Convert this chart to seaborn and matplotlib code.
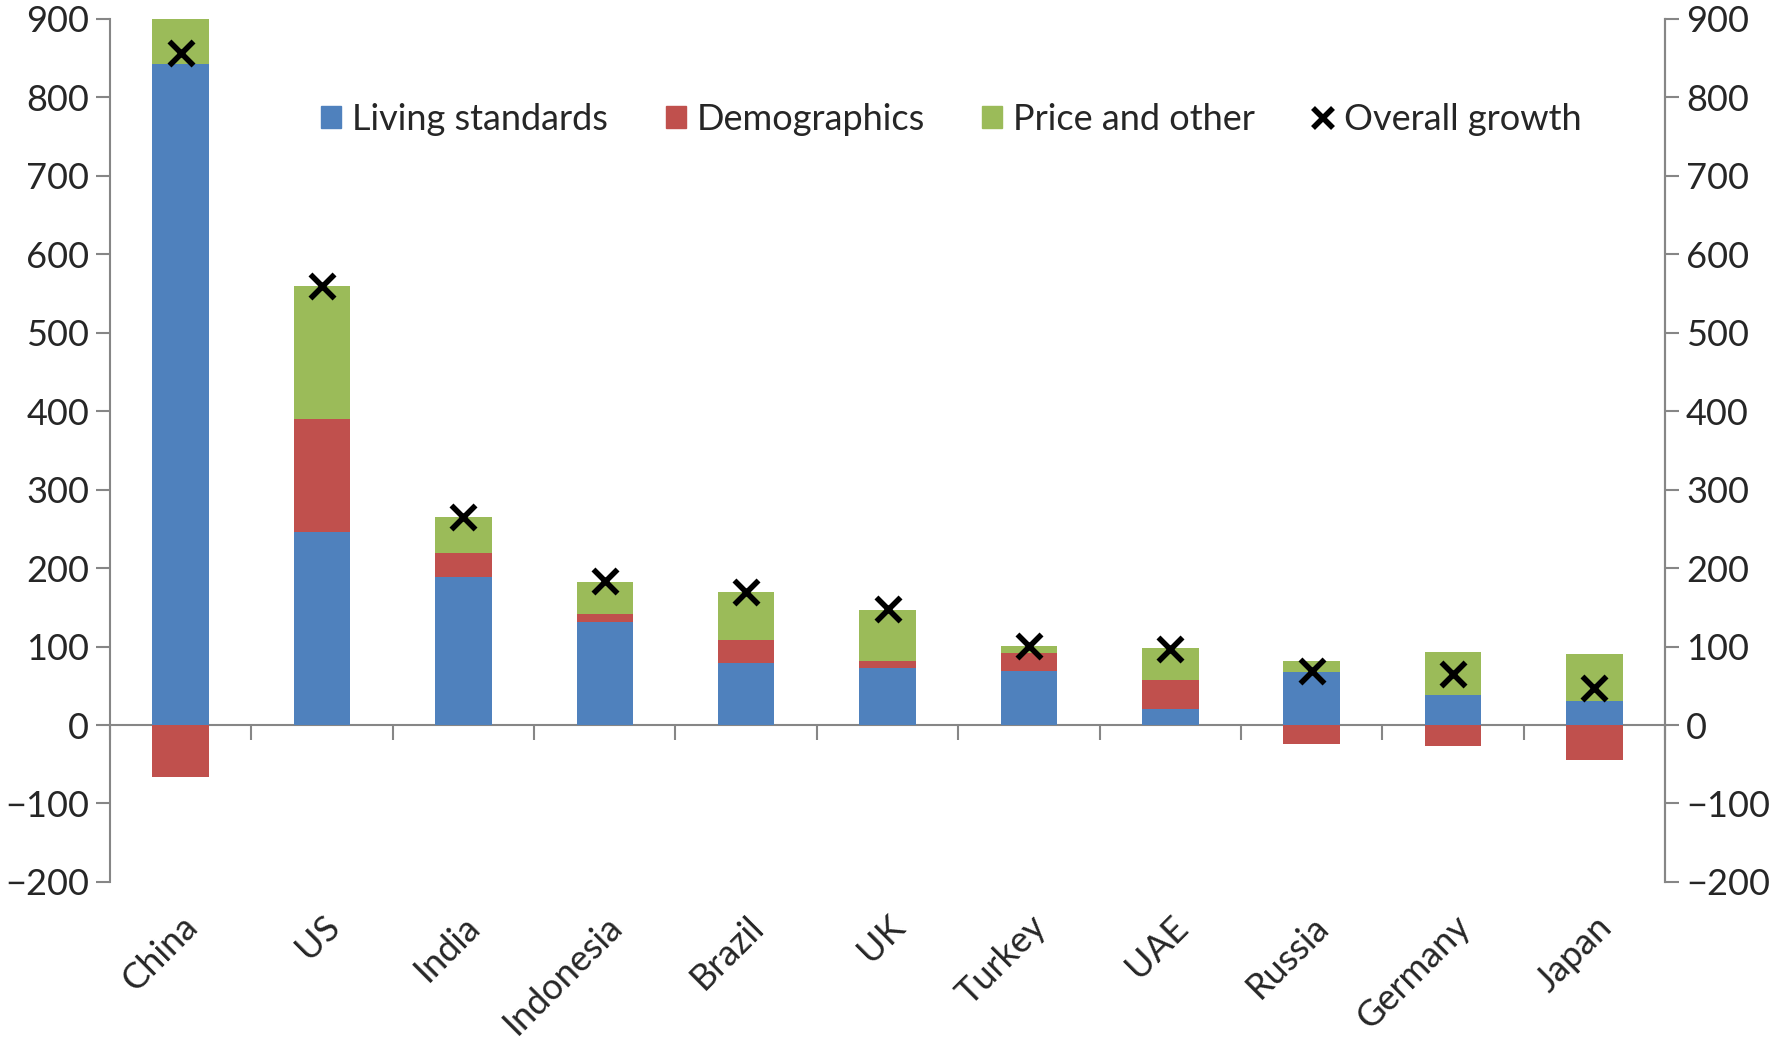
import pandas as pd
import matplotlib
matplotlib.use('Agg')
import matplotlib.pyplot as plt
import seaborn as sns
from matplotlib.patches import Patch
from matplotlib.lines import Line2D

countries = ['China', 'US', 'India', 'Indonesia', 'Brazil', 'UK', 'Turkey', 'UAE', 'Russia', 'Germany', 'Japan']
living_standards = [843, 246, 189, 131, 79, 73, 69, 20, 68, 38, 30]
demographics = [-66, 144, 30, 10, 29, 9, 23, 38, -24, -27, -44]
price_other = [80, 169, 46, 41, 62, 65, 9, 40, 14, 55, 60]
overall_growth = [857, 559, 265, 183, 170, 148, 101, 97, 69, 65, 47]

y_ticks = [-200, -100, 0, 100, 200, 300, 400, 500, 600, 700, 800, 900]

blue = '#4F81BD'
red = '#C0504D'
green = '#9BBB59'
grey = '#868686'

df = pd.DataFrame({'country': countries, 'living': living_standards,
                   'demo': demographics, 'price': price_other, 'overall': overall_growth})
# positive demographics sit on the blue bar, negative ones hang from zero
df['demo_bottom'] = df['living'].where(df['demo'] >= 0, 0)
df['price_bottom'] = df['living'] + df['demo'].clip(lower=0)

sns.set_theme(style='white')
plt.rcParams['font.family'] = ['Lato', 'DejaVu Sans']
fs = 26

fig = plt.figure(figsize=(17.71, 10.40), dpi=100)
ax = fig.add_axes([0.0621, 0.152, 0.8781, 0.8298])

sns.barplot(data=df, x='country', y='living', color=blue, saturation=1, width=0.4,
            errorbar=None, linewidth=0, ax=ax)
sns.barplot(data=df, x='country', y='demo', color=red, saturation=1, width=0.4,
            errorbar=None, linewidth=0, bottom=df['demo_bottom'].to_numpy(), ax=ax)
sns.barplot(data=df, x='country', y='price', color=green, saturation=1, width=0.4,
            errorbar=None, linewidth=0, bottom=df['price_bottom'].to_numpy(), ax=ax)
sns.scatterplot(data=df, x='country', y='overall', marker='x', color='black', s=300,
                linewidth=4, ax=ax, zorder=5, legend=False)

ax.set_xlim(-0.5, len(countries) - 0.5)
ax.set_ylim(-200, 900)
ax.set_yticks(y_ticks)
ax.set_xlabel('')
ax.set_ylabel('')

for s in ['top', 'bottom']:
    ax.spines[s].set_visible(False)
for s in ['left', 'right']:
    ax.spines[s].set_color(grey)
    ax.spines[s].set_linewidth(1.5)

ax.tick_params(axis='y', which='major', direction='out', length=10, width=1.5,
               color=grey, labelsize=fs, left=True, pad=5)
ax.tick_params(axis='x', length=0, labelsize=fs, pad=20)
for lab in ax.get_xticklabels():
    lab.set_rotation(45)
    lab.set_ha('right')
    lab.set_rotation_mode('anchor')

# right-hand copy of the value axis
ax2 = ax.twinx()
ax2.set_ylim(ax.get_ylim())
ax2.set_yticks(y_ticks)
for s in ['top', 'bottom', 'left']:
    ax2.spines[s].set_visible(False)
ax2.spines['right'].set_color(grey)
ax2.spines['right'].set_linewidth(1.5)
ax2.tick_params(axis='y', direction='out', length=10, width=1.5, color=grey,
                labelsize=fs, right=True, pad=5)
ax2.grid(False)

# category axis drawn at zero with boundary ticks
zero_at = (0 - ax.get_ylim()[0]) / (ax.get_ylim()[1] - ax.get_ylim()[0])
sec = ax.secondary_xaxis(zero_at)
sec.set_xticks([i + 0.5 for i in range(-1, len(countries))])
sec.set_xticklabels([])
sec.tick_params(direction='out', length=11, width=1.5, color=grey)
sec.spines['bottom'].set_color(grey)
sec.spines['bottom'].set_linewidth(1.5)

handles = [Patch(color=blue, label='Living standards'),
           Patch(color=red, label='Demographics'),
           Patch(color=green, label='Price and other'),
           Line2D([], [], marker='x', color='black', linestyle='none', markersize=15,
                  markeredgewidth=4, label='Overall growth')]
ax.legend(handles=handles, loc='center', bbox_to_anchor=(0.541, 0.884), ncol=4,
          frameon=False, fontsize=fs, handlelength=0.55, handleheight=0.55,
          handletextpad=0.3, columnspacing=1.6)

fig.savefig('out.png', dpi=100)
